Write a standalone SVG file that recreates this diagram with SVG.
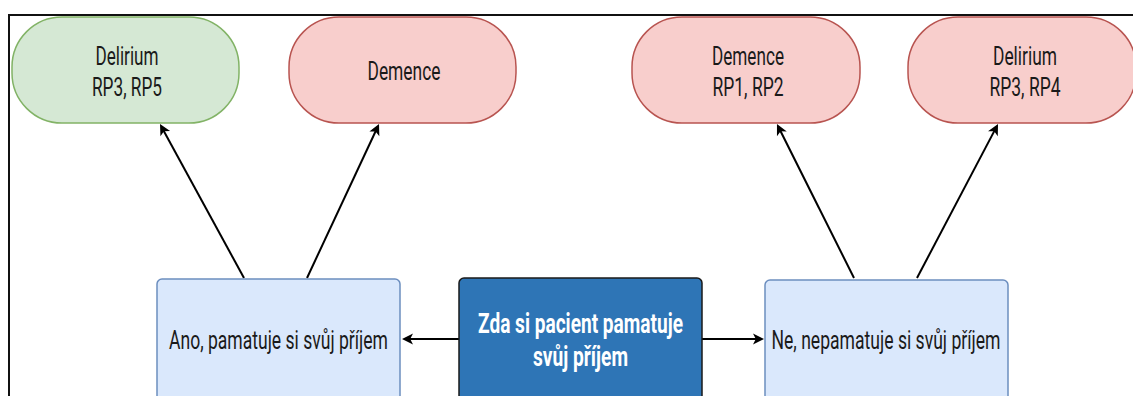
<svg xmlns="http://www.w3.org/2000/svg" width="1133" height="396" viewBox="0 0 1133 396">
<defs>
<style>
.frame{stroke:#111;stroke-width:2;fill:none}
.green{fill:#d5e8d4;stroke:#82b366;stroke-width:1.5}
.red{fill:#f8cecc;stroke:#b85450;stroke-width:1.5}
.light{fill:#dae8fc;stroke:#6c8ebf;stroke-width:1.5}
.dark{fill:#2e75b6;stroke:#1a1a1a;stroke-width:1.5}
.t{font-family:Roboto,"Liberation Sans",sans-serif;font-size:25px;fill:#1a1a1a;text-anchor:middle}
.tb{font-family:Roboto,"Liberation Sans",sans-serif;font-size:27px;font-weight:bold;fill:#ffffff;text-anchor:middle}
.edge{stroke:#000;stroke-width:2;fill:none}
</style>
<marker id="arr" markerUnits="userSpaceOnUse" markerWidth="12" markerHeight="11" refX="6" refY="5.5" orient="auto" overflow="visible">
<path d="M0,0 L11,5.5 L0,11 L2.8,5.5 Z" fill="#000"/>
</marker>
</defs>
<rect width="1133" height="396" fill="#ffffff"/>
<path class="frame" d="M9,396 V15 H1133"/>

<g id="connectors">
<path class="edge" d="M244,278 L162.4,128.4" marker-end="url(#arr)"/>
<path class="edge" d="M307,278 L376.9,128.5" marker-end="url(#arr)"/>
<path class="edge" d="M854,278 L779.2,128.5" marker-end="url(#arr)"/>
<path class="edge" d="M917,278 L995.7,128.4" marker-end="url(#arr)"/>
<path class="edge" d="M459,339 L407,339" marker-end="url(#arr)"/>
<path class="edge" d="M702,339 L759,339" marker-end="url(#arr)"/>
</g>

<g id="delirium-left">
<rect class="green" x="12" y="17" width="227" height="106" rx="50" ry="50"/>
<text class="t" x="127" y="65" textLength="63" lengthAdjust="spacingAndGlyphs">Delirium</text>
<text class="t" x="127" y="96" textLength="70" lengthAdjust="spacingAndGlyphs">RP3, RP5</text>
</g>

<g id="demence-left">
<rect class="red" x="289" y="17" width="227" height="106" rx="50" ry="50"/>
<text class="t" x="404" y="80" textLength="73" lengthAdjust="spacingAndGlyphs">Demence</text>
</g>

<g id="demence-right">
<rect class="red" x="632" y="17" width="228" height="106" rx="50" ry="50"/>
<text class="t" x="748" y="65" textLength="72" lengthAdjust="spacingAndGlyphs">Demence</text>
<text class="t" x="748" y="96" textLength="71" lengthAdjust="spacingAndGlyphs">RP1, RP2</text>
</g>

<g id="delirium-right">
<rect class="red" x="908" y="17" width="228" height="106" rx="50" ry="50"/>
<text class="t" x="1025" y="65" textLength="64" lengthAdjust="spacingAndGlyphs">Delirium</text>
<text class="t" x="1025" y="96" textLength="71" lengthAdjust="spacingAndGlyphs">RP3, RP4</text>
</g>

<g id="ano">
<rect class="light" x="157" y="279" width="243" height="125" rx="5" ry="5"/>
<text class="t" x="278.5" y="349" textLength="219" lengthAdjust="spacingAndGlyphs">Ano, pamatuje si svůj příjem</text>
</g>

<g id="otazka">
<rect class="dark" x="459" y="278" width="243" height="126" rx="5" ry="5"/>
<text class="tb" x="580.5" y="333" textLength="205" lengthAdjust="spacingAndGlyphs">Zda si pacient pamatuje</text>
<text class="tb" x="580.5" y="366" textLength="95" lengthAdjust="spacingAndGlyphs">svůj příjem</text>
</g>

<g id="ne">
<rect class="light" x="765" y="280" width="243" height="124" rx="5" ry="5"/>
<text class="t" x="886" y="349" textLength="229" lengthAdjust="spacingAndGlyphs">Ne, nepamatuje si svůj příjem</text>
</g>
</svg>
